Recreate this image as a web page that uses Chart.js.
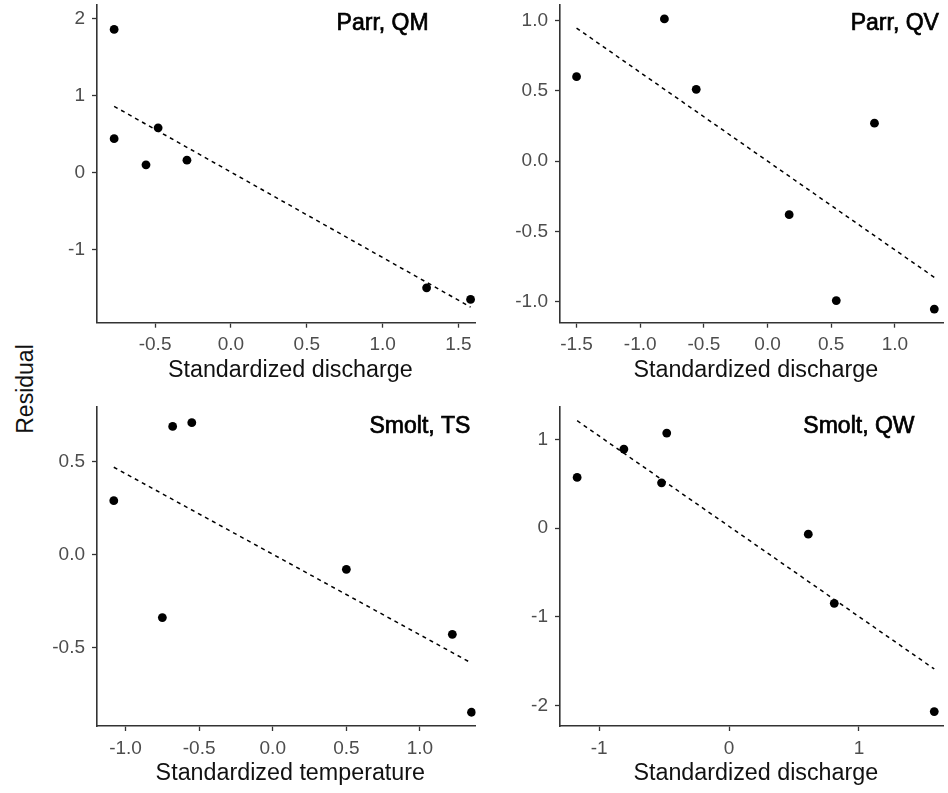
<!DOCTYPE html>
<html>
<head>
<meta charset="utf-8">
<script src="https://cdn.jsdelivr.net/npm/chart.js@4.4.0/dist/chart.umd.min.js"></script>
<style>
  body { margin: 0; background: #fff; width: 948px; height: 793px; position: relative; overflow: hidden;
         font-family: "Liberation Sans", Arial, sans-serif; }
  canvas { position: absolute; }
  #ylab { position: absolute; left: 25px; top: 389px; transform: translate(-50%, -50%) rotate(-90deg);
          font-size: 23px; color: #111; white-space: nowrap; }
</style>
</head>
<body>
<div id="ylab">Residual</div>
<canvas id="qm" width="440" height="390" style="left:40px;top:0"></canvas>
<canvas id="qv" width="458" height="390" style="left:490px;top:0"></canvas>
<canvas id="ts" width="440" height="403" style="left:40px;top:390px"></canvas>
<canvas id="qw" width="458" height="403" style="left:490px;top:390px"></canvas>
<script>
// Parr, QM
const qmX = [-0.77, -0.77, -0.56, -0.48, -0.29, 1.29, 1.58];
const qmY = [1.86, 0.44, 0.10, 0.58, 0.16, -1.50, -1.65];
const qmFitX = [-0.77, 1.58];
const qmFitY = [0.86, -1.75];
const qmXTicks = [-0.5, 0, 0.5, 1, 1.5];
const qmXLabels = ['-0.5', '0.0', '0.5', '1.0', '1.5'];
const qmYTicks = [-1, 0, 1, 2];
const qmYLabels = ['-1', '0', '1', '2'];

// Parr, QV
const qvX = [-1.50, -0.81, -0.56, 0.17, 0.54, 0.84, 1.31];
const qvY = [0.60, 1.01, 0.51, -0.38, -0.99, 0.27, -1.05];
const qvFitX = [-1.50, 1.31];
const qvFitY = [0.945, -0.825];
const qvXTicks = [-1.5, -1, -0.5, 0, 0.5, 1];
const qvXLabels = ['-1.5', '-1.0', '-0.5', '0.0', '0.5', '1.0'];
const qvYTicks = [-1, -0.5, 0, 0.5, 1];
const qvYLabels = ['-1.0', '-0.5', '0.0', '0.5', '1.0'];

// Smolt, TS
const tsX = [-1.08, -0.75, -0.68, -0.55, 0.50, 1.22, 1.35];
const tsY = [0.29, -0.34, 0.69, 0.71, -0.08, -0.43, -0.85];
const tsFitX = [-1.08, 1.35];
const tsFitY = [0.47, -0.585];
const tsXTicks = [-1, -0.5, 0, 0.5, 1];
const tsXLabels = ['-1.0', '-0.5', '0.0', '0.5', '1.0'];
const tsYTicks = [-0.5, 0, 0.5];
const tsYLabels = ['-0.5', '0.0', '0.5'];

// Smolt, QW
const qwX = [-1.17, -0.81, -0.52, -0.48, 0.61, 0.81, 1.58];
const qwY = [0.57, 0.89, 0.51, 1.07, -0.07, -0.85, -2.07];
const qwFitX = [-1.17, 1.58];
const qwFitY = [1.21, -1.59];
const qwXTicks = [-1, 0, 1];
const qwXLabels = ['-1', '0', '1'];
const qwYTicks = [-2, -1, 0, 1];
const qwYLabels = ['-2', '-1', '0', '1'];

const FONT = '"Liberation Sans", Arial, sans-serif';
const AXIS = '#333333';

// panel tag centred on a data x, fixed distance below the top of the plot,
// plus the x axis title under the tick labels
const panelText = {
  id: 'panelText',
  afterDraw(chart, args, o) {
    const ctx = chart.ctx;
    const area = chart.chartArea;
    const tx = chart.scales.x.getPixelForValue(o.at);
    ctx.save();
    ctx.textAlign = 'center';
    ctx.font = '23px ' + FONT;
    ctx.fillStyle = '#000';
    ctx.strokeStyle = '#000';
    ctx.lineWidth = 0.7;
    ctx.textBaseline = 'alphabetic';
    ctx.fillText(o.tag, tx, area.top + 26);
    ctx.strokeText(o.tag, tx, area.top + 26);
    ctx.font = '23.3px ' + FONT;
    ctx.fillStyle = '#111';
    ctx.textBaseline = 'middle';
    ctx.fillText(o.xTitle, (area.left + area.right) / 2 + 4, area.bottom + 48);
    ctx.restore();
  }
};

function pairs(xs, ys) {
  return xs.map((v, i) => ({ x: v, y: ys[i] }));
}

function axis(range, ticks, labels, isX, size) {
  return {
    type: 'linear',
    min: range[0],
    max: range[1],
    afterBuildTicks: s => { s.ticks = ticks.map(v => ({ value: v })); },
    afterFit: s => {
      // fixed axis sizes, no extra room for overhanging end labels
      if (isX) { s.height = size; s.paddingLeft = 0; s.paddingRight = 0; }
      else { s.width = size; s.paddingTop = 0; s.paddingBottom = 0; }
    },
    ticks: {
      callback: (v, i) => labels[i],
      color: '#4d4d4d',
      font: { family: FONT, size: 19 },
      padding: isX ? 6 : 7,
      maxRotation: 0,
      autoSkip: false
    },
    grid: { drawOnChartArea: false, drawTicks: true, tickLength: 5, tickColor: AXIS, tickWidth: 1.3 },
    border: { display: true, color: AXIS, width: 1.6 }
  };
}

function panel(id, p) {
  new Chart(document.getElementById(id), {
    type: 'scatter',
    data: {
      datasets: [
        {
          data: pairs(p.x, p.y),
          backgroundColor: '#000',
          borderColor: '#000',
          pointRadius: 4.4,
          pointHoverRadius: 4.4,
          pointBorderWidth: 0
        },
        {
          type: 'line',
          data: pairs(p.fitX, p.fitY),
          borderColor: '#000',
          borderWidth: 1.5,
          borderDash: [4, 4],
          pointRadius: 0,
          fill: false
        }
      ]
    },
    options: {
      responsive: false,
      animation: false,
      events: [],
      layout: { padding: { top: p.padTop, right: p.padRight, bottom: 0, left: 0 } },
      plugins: {
        legend: { display: false },
        tooltip: { enabled: false },
        panelText: { tag: p.tag, at: 1, xTitle: p.xTitle }
      },
      scales: {
        x: axis(p.xRange, p.xTicks, p.xLabels, true, p.xH),
        y: axis(p.yRange, p.yTicks, p.yLabels, false, p.yW)
      }
    },
    plugins: [panelText]
  });
}

panel('qm', {
  x: qmX, y: qmY, fitX: qmFitX, fitY: qmFitY, tag: 'Parr, QM',
  xRange: [-0.883, 1.613], yRange: [-1.953, 2.185],
  xTicks: qmXTicks, xLabels: qmXLabels, yTicks: qmYTicks, yLabels: qmYLabels,
  xTitle: 'Standardized discharge', padTop: 4, padRight: 2, xH: 67.3, yW: 57
});
panel('qv', {
  x: qvX, y: qvY, fitX: qvFitX, fitY: qvFitY, tag: 'Parr, QV',
  xRange: [-1.63, 1.383], yRange: [-1.147, 1.113],
  xTicks: qvXTicks, xLabels: qvXLabels, yTicks: qvYTicks, yLabels: qvYLabels,
  xTitle: 'Standardized discharge', padTop: 4, padRight: 3, xH: 67.3, yW: 70
});
panel('ts', {
  x: tsX, y: tsY, fitX: tsFitX, fitY: tsFitY, tag: 'Smolt, TS',
  xRange: [-1.194, 1.378], yRange: [-0.924, 0.796],
  xTicks: tsXTicks, xLabels: tsXLabels, yTicks: tsYTicks, yLabels: tsYLabels,
  xTitle: 'Standardized temperature', padTop: 16.7, padRight: 2, xH: 67, yW: 57
});
panel('qw', {
  x: qwX, y: qwY, fitX: qwFitX, fitY: qwFitY, tag: 'Smolt, QW',
  xRange: [-1.302, 1.652], yRange: [-2.233, 1.368],
  xTicks: qwXTicks, xLabels: qwXLabels, yTicks: qwYTicks, yLabels: qwYLabels,
  xTitle: 'Standardized discharge', padTop: 16.7, padRight: 3, xH: 67, yW: 70
});
</script>
</body>
</html>
